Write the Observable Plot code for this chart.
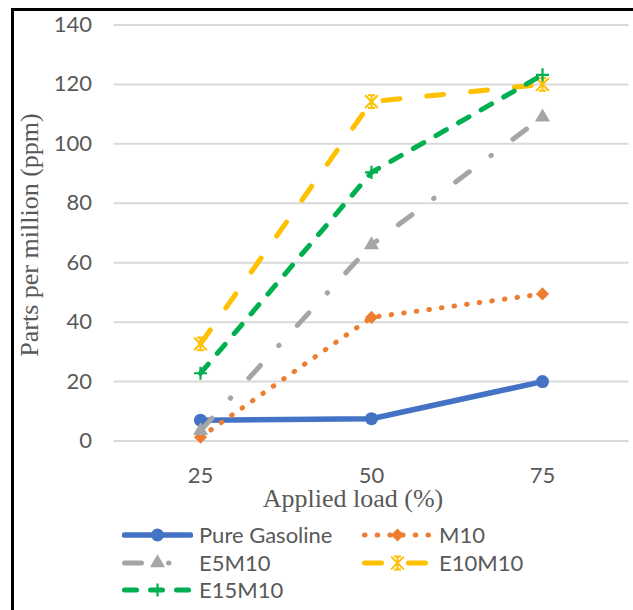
<!DOCTYPE html>
<html><head><meta charset="utf-8">
<script src="https://cdn.jsdelivr.net/npm/d3@7"></script>
<script src="https://cdn.jsdelivr.net/npm/@observablehq/plot@0.6"></script>
<style>
html,body{margin:0;padding:0;background:#fff;overflow:hidden;width:633px;height:610px}
#wrap{position:relative;width:633px;height:610px;overflow:hidden}
#frame{position:absolute;left:11px;top:8px;width:700px;height:700px;border:3px solid #000;box-sizing:border-box;pointer-events:none}
#chart{position:absolute;left:0;top:0}
#legend{position:absolute;left:0;top:520px;width:633px;height:90px;font-family:Lato,sans-serif;font-size:22px;color:#595959}
.item{position:absolute;display:flex;align-items:center;height:26px}
.item svg{flex:none;display:block}
.item span{margin-left:6px;white-space:nowrap;line-height:26px}
</style></head><body><div id="wrap"><div id="frame"></div><div id="chart"></div><div id="legend"></div></div>
<script>
// ---- data ----
const loads = ["25", "50", "75"];
const seriesNames = ["Pure Gasoline", "M10", "E5M10", "E10M10", "E15M10"];
const pureGasoline = [7, 7.5, 20];
const m10 = [1.3, 41.6, 49.5];
const e5m10 = [3.5, 66, 109];
const e10m10 = [32.7, 114.2, 120];
const e15m10 = [22.8, 90.4, 123.2];
const yTicks = [0, 20, 40, 60, 80, 100, 120, 140];
const xTitle = "Applied load (%)";
const yTitle = "Parts per million (ppm)";

// ---- styles ----
const starSymbol = {
  draw(ctx, size) {
    const r = Math.sqrt(size) * 0.6, h = r * 0.55;
    ctx.moveTo(-r, -r); ctx.lineTo(r, r);
    ctx.moveTo(-r, r); ctx.lineTo(r, -r);
    ctx.moveTo(0, -r); ctx.lineTo(0, r);
    ctx.moveTo(-h, -r); ctx.lineTo(h, -r);
    ctx.moveTo(-h, r); ctx.lineTo(h, r);
  }
};
const styles = [
  {color: "#4472C4", width: 5.5, dash: null, symbol: "circle", r: 6.5, filled: true, sw: 0},
  {color: "#ED7D31", width: 5, dash: "0.5,12.2", symbol: "diamond2", r: 5.9, filled: true, sw: 0},
  {color: "#A5A5A5", width: 5, dash: "17,27,0.5,27", symbol: "triangle", r: 5.6, filled: true, sw: 0},
  {color: "#FFC000", width: 5, dash: "17,27", symbol: starSymbol, r: 6, filled: false, sw: 2},
  {color: "#00B050", width: 5, dash: "12,14", symbol: "plus", r: 4.3, filled: false, sw: 2.2}
];
const values = [pureGasoline, m10, e5m10, e10m10, e15m10];
const series = seriesNames.map((name, i) => ({
  name, ...styles[i],
  rows: loads.map((l, j) => ({load: l, value: values[i][j]}))
}));

const marks = [
  Plot.gridY(yTicks, {stroke: "#d9d9d9", strokeOpacity: 1, strokeWidth: 2}),
  Plot.axisY(yTicks, {tickSize: 0, tickPadding: 22, fontSize: 22, color: "#595959", label: null}),
  Plot.axisX(loads, {tickSize: 0, tickPadding: 26, fontSize: 22, color: "#595959", label: null}),
  Plot.text([yTitle], {text: d => d, frameAnchor: "left", rotate: -90, dx: -84, dy: 2,
    textAnchor: "middle", lineAnchor: "middle",
    fontFamily: "Liberation Serif", fontSize: 26, fill: "#595959"}),
  Plot.text([xTitle], {text: d => d, frameAnchor: "bottom", dx: -18.5, dy: 58,
    textAnchor: "middle", lineAnchor: "middle",
    fontFamily: "Liberation Serif", fontSize: 26, fill: "#595959"})
];
for (const s of series) {
  marks.push(Plot.line(s.rows, {x: "load", y: "value", stroke: s.color, strokeWidth: s.width,
    strokeDasharray: s.dash, strokeLinecap: "round", strokeLinejoin: "round"}));
  marks.push(Plot.dot(s.rows, {x: "load", y: "value", symbol: () => s.symbol, r: s.r,
    fill: s.filled ? s.color : "none", stroke: s.filled ? "none" : s.color, strokeWidth: s.sw}));
}

const chart = Plot.plot({
  width: 633, height: 520,
  marginLeft: 113.5, marginRight: 4.5, marginTop: 24.5, marginBottom: 79.5,
  style: {fontFamily: "Lato, sans-serif", background: "transparent", overflow: "visible"},
  x: {type: "point", domain: loads, padding: 0.5, axis: null},
  y: {domain: [0, 140], axis: null},
  symbol: {type: "identity"},
  marks
});
document.getElementById("chart").appendChild(chart);

// ---- legend ----
const legend = document.getElementById("legend");
const colX = [122, 362], rowY = [15, 43, 70];
series.forEach((s, i) => {
  const item = document.createElement("div");
  item.className = "item";
  item.style.left = colX[i % 2] + "px";
  item.style.top = (rowY[Math.floor(i / 2)] - 13) + "px";
  const svg = d3.create("svg").attr("width", 71).attr("height", 20);
  svg.append("line").attr("x1", 2.5).attr("x2", 68.5).attr("y1", 10).attr("y2", 10)
    .attr("stroke", s.color).attr("stroke-width", s.width).attr("stroke-linecap", "round")
    .attr("stroke-dasharray", s.dash);
  const typeMap = {circle: d3.symbolCircle, diamond2: d3.symbolDiamond2, triangle: d3.symbolTriangle, plus: d3.symbolPlus};
  const t = typeof s.symbol === "string" ? typeMap[s.symbol] : s.symbol;
  svg.append("path").attr("transform", "translate(35.5,10)")
    .attr("d", d3.symbol(t, Math.PI * s.r * s.r)())
    .attr("fill", s.filled ? s.color : "#fff")
    .attr("stroke", s.filled ? "none" : s.color).attr("stroke-width", s.sw);
  item.appendChild(svg.node());
  const span = document.createElement("span");
  span.textContent = s.name;
  item.appendChild(span);
  legend.appendChild(item);
});
</script></body></html>
